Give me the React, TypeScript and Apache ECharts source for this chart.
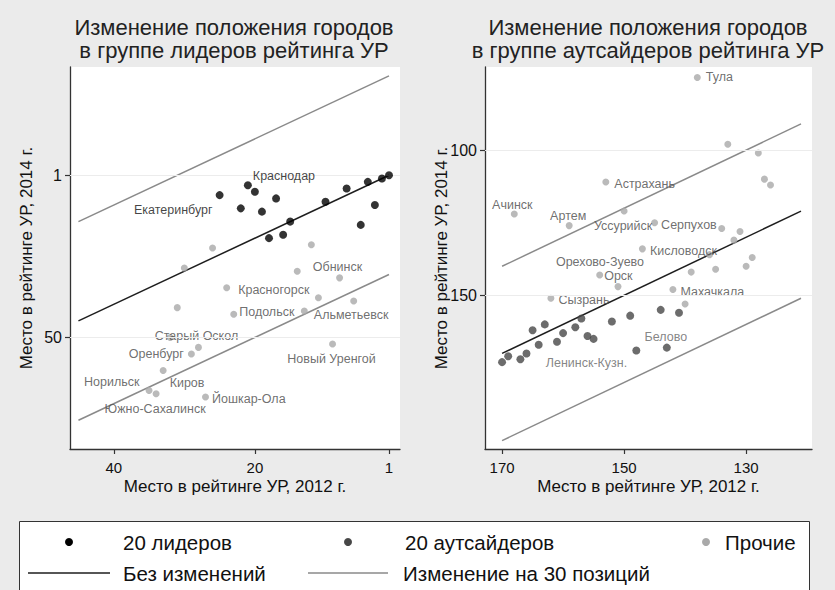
import React, { useEffect, useRef } from "react";
import * as echarts from "echarts";

// ---------- DATA ----------
// Left panel: leaders (place 2012, place 2014)
const leadersNames = ["Екатеринбург", "Краснодар", "", "", "", "", "", "", "", "", "", "", "", "", "", ""];
const leaders2012 = [25, 21, 20, 22, 19, 17, 15, 18, 16, 10, 7, 5, 4, 3, 2, 1];
const leaders2014 = [7, 4, 6, 11, 12, 8, 15, 20, 19, 9, 5, 16, 3, 10, 2, 1];

// Left panel: other cities
const leftOthersNames = ["", "", "", "Обнинск", "", "Красногорск", "", "", "", "Подольск", "Альметьевск", "", "Старый Оскол", "Оренбург", "Новый Уренгой", "Киров", "Норильск", "Южно-Сахалинск", "Йошкар-Ола"];
const leftOthers2012 = [26, 30, 12, 14, 8, 24, 11, 6, 31, 23, 13, 32, 28, 29, 9, 33, 35, 34, 27];
const leftOthers2014 = [23, 29, 22, 30, 32, 35, 38, 39, 41, 43, 42, 50, 53, 55, 52, 60, 66, 67, 68];

// Right panel: outsiders
const outsidersNames = ["", "", "", "", "", "", "", "", "", "", "", "Ленинск-Кузн.", "", "", "", "", "", "", "Белово"];
const outsiders2012 = [170, 169, 167, 166, 165, 164, 163, 161, 160, 158, 157, 156, 155, 152, 149, 144, 141, 148, 143];
const outsiders2014 = [173, 171, 172, 170, 162, 167, 160, 166, 163, 161, 158, 164, 165, 159, 157, 155, 156, 169, 168];

// Right panel: other cities
const rightOthersNames = ["Тула", "", "", "Астрахань", "Ачинск", "Артем", "Уссурийск", "Серпухов", "", "", "", "Кисловодск", "", "", "", "", "", "Орск", "Орехово-Зуево", "Махачкала", "", "", "", "Сызрань"];
const rightOthers2012 = [138, 133, 128, 153, 168, 159, 150, 145, 134, 131, 132, 147, 136, 129, 130, 135, 139, 154, 151, 142, 140, 127, 126, 162];
const rightOthers2014 = [75, 98, 101, 111, 122, 126, 121, 125, 127, 128, 131, 134, 136, 137, 140, 141, 142, 143, 147, 148, 153, 110, 112, 151];

// Axes
const leftTicksX = [40, 20, 1];
const leftTicksY = [1, 50];
const rightTicksX = [170, 150, 130];
const rightTicksY = [100, 150];
const leftLineRange = [45, 1];
const rightLineRange = [170, 121];
const shiftPositions = 30;

const titleLeft = "Изменение положения городов\nв группе лидеров рейтинга УР";
const titleRight = "Изменение положения городов\nв группе аутсайдеров рейтинга УР";
const xName = "Место в рейтинге УР, 2012 г.";
const yName = "Место в рейтинге УР, 2014 г.";
const legendLabels = ["20 лидеров", "20 аутсайдеров", "Прочие", "Без изменений", "Изменение на 30 позиций"];

// ---------- LABEL PLACEMENT (style) ----------
const labelPlacement: Record<string, [string, number, number]> = {
  "Краснодар": ["right", -4, -9],
  "Екатеринбург": ["left", 2, 15],
  "Обнинск": ["right", 7, -4],
  "Красногорск": ["right", 3, 2],
  "Подольск": ["right", -3, -2],
  "Альметьевск": ["right", 1, 4],
  "Старый Оскол": ["top", -2, 4],
  "Оренбург": ["left", 1, 0],
  "Новый Уренгой": ["bottom", -1, 0],
  "Норильск": ["left", -1, -8],
  "Киров": ["right", -2, 12],
  "Южно-Сахалинск": ["bottom", -1, 0],
  "Йошкар-Ола": ["right", -2, 2],
  "Тула": ["right", 0, 0],
  "Астрахань": ["right", 0, 2],
  "Ачинск": ["top", -2, 6],
  "Артем": ["top", -1, 5],
  "Уссурийск": ["bottom", -1, 0],
  "Серпухов": ["right", -2, 2],
  "Кисловодск": ["right", -1, 2],
  "Орск": ["right", -4, 1],
  "Орехово-Зуево": ["top", -18, -10],
  "Махачкала": ["right", -1, 2],
  "Сызрань": ["right", -1, 2],
  "Белово": ["top", -1, 5],
  "Ленинск-Кузн.": ["bottom", -1, 12],
};

const FONT = "'Liberation Sans', Arial, sans-serif";
const C_LEADER = "#000000";
const C_OUTSIDER = "#474747";
const C_OTHER = "#a9a9a9";
const C_LINE0 = "#1e1e1e";
const C_LINE30 = "#8a8a8a";

function buildPoints(xs: number[], ys: number[], names: string[], labelColor: string) {
  return xs.map((x, i) => {
    const name = names[i] || "";
    const p = labelPlacement[name];
    const item: any = { value: [x, ys[i]], name };
    if (name && p) {
      item.label = {
        show: true,
        formatter: name,
        position: p[0],
        offset: [p[1], p[2]],
        distance: 5,
        fontSize: 12.5,
        fontFamily: FONT,
        color: labelColor,
      };
    }
    return item;
  });
}

function refLines(range: number[], xIdx: number, yIdx: number) {
  const mk = (name: string, d: number, color: string, z: number) => ({
    type: "line",
    name,
    xAxisIndex: xIdx,
    yAxisIndex: yIdx,
    data: [
      [range[0], range[0] + d],
      [range[1], range[1] + d],
    ],
    symbol: "none",
    lineStyle: { color, width: 1.5 },
    silent: true,
    z,
  });
  return [
    mk("plus", shiftPositions, C_LINE30, 2),
    mk("minus", -shiftPositions, C_LINE30, 2),
    mk("zero", 0, C_LINE0, 3),
  ];
}

function gridLines(ticks: number[], xIdx: number, yIdx: number) {
  return {
    type: "scatter",
    xAxisIndex: xIdx,
    yAxisIndex: yIdx,
    data: [],
    silent: true,
    z: 1,
    markLine: {
      silent: true,
      symbol: "none",
      label: { show: false },
      lineStyle: { color: "#ececec", width: 1, type: "solid" },
      data: ticks.map((t) => ({ yAxis: t })),
    },
  };
}

function xAxisCfg(grid: number, min: number, max: number, ticks: number[]) {
  return {
    gridIndex: grid,
    type: "value",
    inverse: true,
    min,
    max,
    position: "bottom",
    axisLine: { show: true, onZero: false, lineStyle: { color: "#333", width: 1.3 } },
    axisTick: { show: true, customValues: ticks, length: 5, lineStyle: { color: "#333", width: 1.2 } },
    axisLabel: { customValues: ticks, fontSize: 15, margin: 11, color: "#111", fontFamily: FONT },
    splitLine: { show: false },
    name: xName,
    nameLocation: "middle",
    nameGap: 29,
    nameMoveOverlap: false,
    nameTextStyle: { fontSize: 17, color: "#111", fontFamily: FONT },
  };
}

function yAxisCfg(grid: number, min: number, max: number, ticks: number[]) {
  return {
    gridIndex: grid,
    type: "value",
    inverse: true,
    min,
    max,
    position: "left",
    axisLine: { show: true, onZero: false, lineStyle: { color: "#333", width: 1.3 } },
    axisTick: { show: true, customValues: ticks, length: 5, lineStyle: { color: "#333", width: 1.2 } },
    axisLabel: { customValues: ticks, fontSize: 16, margin: 8, color: "#111", fontFamily: FONT },
    splitLine: { show: false },
    name: yName,
    nameLocation: "middle",
    nameGap: 35,
    nameMoveOverlap: false,
    nameTextStyle: { fontSize: 17, color: "#111", fontFamily: FONT },
  };
}

export default function App() {
  const ref = useRef<HTMLDivElement>(null);
  useEffect(() => {
    if (!ref.current) return;
    const chart = echarts.init(ref.current, undefined, { renderer: "svg" });
    const legendFont = 20.5;
    const option: any = {
      animation: false,
      backgroundColor: "#ebebeb",
      textStyle: { fontFamily: FONT },
      grid: [
        { left: 70, top: 67, width: 330, height: 382, show: true, backgroundColor: "#ffffff", borderWidth: 0 },
        { left: 485, top: 67, width: 327, height: 382, show: true, backgroundColor: "#ffffff", borderWidth: 0 },
      ],
      xAxis: [xAxisCfg(0, -0.56, 46.2, leftTicksX), xAxisCfg(1, 119.2, 172.8, rightTicksX)],
      yAxis: [yAxisCfg(0, -31.7, 83.7, leftTicksY), yAxisCfg(1, 71.4, 202.9, rightTicksY)],
      series: [
        gridLines(leftTicksY, 0, 0),
        gridLines(rightTicksY, 1, 1),
        ...refLines(leftLineRange, 0, 0),
        ...refLines(rightLineRange, 1, 1),
        {
          type: "scatter",
          name: legendLabels[2],
          xAxisIndex: 0,
          yAxisIndex: 0,
          symbolSize: 7,
          itemStyle: { color: C_OTHER },
          data: buildPoints(leftOthers2012, leftOthers2014, leftOthersNames, "#4a4a4a"),
          z: 4,
        },
        {
          type: "scatter",
          name: legendLabels[0],
          xAxisIndex: 0,
          yAxisIndex: 0,
          symbolSize: 8,
          itemStyle: { color: C_LEADER },
          data: buildPoints(leaders2012, leaders2014, leadersNames, "#111111"),
          z: 5,
        },
        {
          type: "scatter",
          name: legendLabels[2],
          xAxisIndex: 1,
          yAxisIndex: 1,
          symbolSize: 7,
          itemStyle: { color: C_OTHER },
          data: buildPoints(rightOthers2012, rightOthers2014, rightOthersNames, "#4a4a4a"),
          z: 4,
        },
        {
          type: "scatter",
          name: legendLabels[1],
          xAxisIndex: 1,
          yAxisIndex: 1,
          symbolSize: 8,
          itemStyle: { color: C_OUTSIDER },
          data: buildPoints(outsiders2012, outsiders2014, outsidersNames, "#666666"),
          z: 5,
        },
      ],
      graphic: [
        {
          type: "text",
          x: 234,
          y: 16,
          style: { text: titleLeft, fontSize: 22, lineHeight: 23, align: "center", verticalAlign: "top", fill: "#222", fontFamily: FONT },
        },
        {
          type: "text",
          x: 648,
          y: 16,
          style: { text: titleRight, fontSize: 22, lineHeight: 23, align: "center", verticalAlign: "top", fill: "#222", fontFamily: FONT },
        },
        {
          type: "rect",
          shape: { x: 19.5, y: 521.5, width: 790, height: 90 },
          style: { fill: "#ffffff", stroke: "#333", lineWidth: 1 },
        },
        { type: "circle", shape: { cx: 69, cy: 542, r: 4 }, style: { fill: C_LEADER } },
        { type: "circle", shape: { cx: 348, cy: 542, r: 4 }, style: { fill: C_OUTSIDER } },
        { type: "circle", shape: { cx: 706, cy: 542, r: 4 }, style: { fill: C_OTHER } },
        { type: "line", shape: { x1: 28, y1: 573, x2: 110, y2: 573 }, style: { stroke: C_LINE0, lineWidth: 1.5 } },
        { type: "line", shape: { x1: 308, y1: 573, x2: 388, y2: 573 }, style: { stroke: C_LINE30, lineWidth: 1.5 } },
        { type: "text", x: 123, y: 542, style: { text: legendLabels[0], fontSize: legendFont, verticalAlign: "middle", fill: "#111", fontFamily: FONT } },
        { type: "text", x: 405, y: 542, style: { text: legendLabels[1], fontSize: legendFont, verticalAlign: "middle", fill: "#111", fontFamily: FONT } },
        { type: "text", x: 725, y: 542, style: { text: legendLabels[2], fontSize: legendFont, verticalAlign: "middle", fill: "#111", fontFamily: FONT } },
        { type: "text", x: 123, y: 573, style: { text: legendLabels[3], fontSize: legendFont, verticalAlign: "middle", fill: "#111", fontFamily: FONT } },
        { type: "text", x: 403, y: 573, style: { text: legendLabels[4], fontSize: legendFont, verticalAlign: "middle", fill: "#111", fontFamily: FONT } },
      ],
    };
    chart.setOption(option);
    return () => chart.dispose();
  }, []);
  return <div ref={ref} style={{ position: "fixed", left: 0, top: 0, width: 835, height: 590 }} />;
}
